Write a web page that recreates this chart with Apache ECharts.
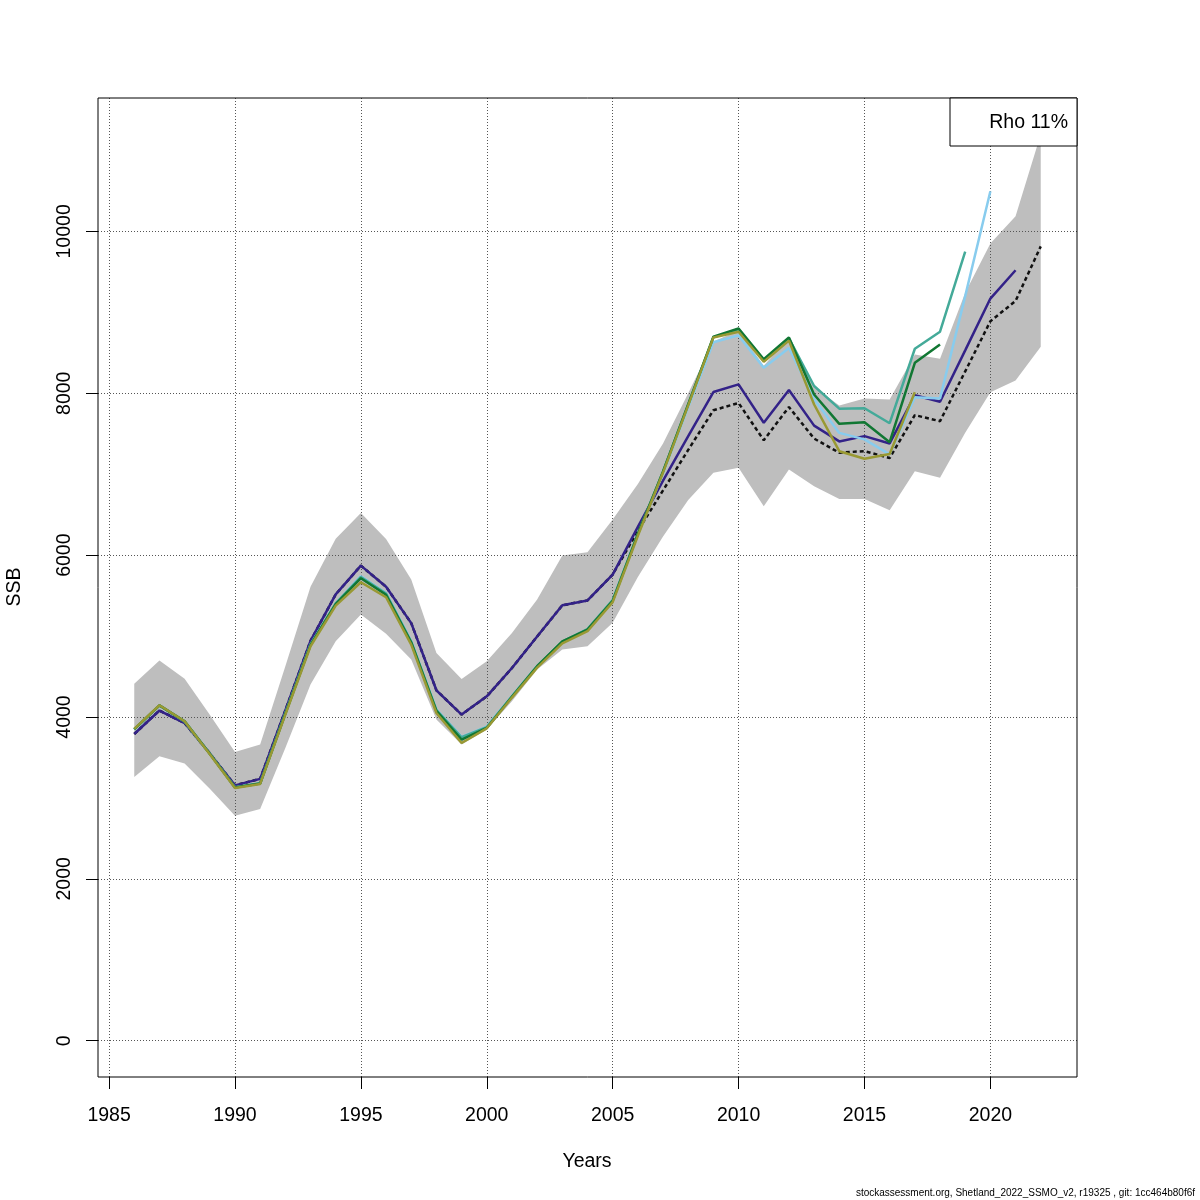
<!DOCTYPE html>
<html>
<head>
<meta charset="utf-8">
<script src="https://cdn.jsdelivr.net/npm/echarts@6.0.0/dist/echarts.min.js"></script>
<style>
  html, body { margin: 0; padding: 0; background: #fff; }
  #container { width: 1200px; height: 1200px; }
</style>
</head>
<body>
<div id="container"></div>

<script type="text/javascript">
    // years of the assessment
    var years = [1986, 1987, 1988, 1989, 1990, 1991, 1992, 1993, 1994, 1995,
                 1996, 1997, 1998, 1999, 2000, 2001, 2002, 2003, 2004, 2005,
                 2006, 2007, 2008, 2009, 2010, 2011, 2012, 2013, 2014, 2015,
                 2016, 2017, 2018, 2019, 2020, 2021, 2022];

    // final run, with its confidence band
    var ssbFinal = [3790, 4080, 3925, 3550, 3155, 3235, 4080, 4940, 5515, 5870,
                    5610, 5160, 4330, 4030, 4255, 4605, 4995, 5380, 5440, 5760,
                    6300, 6800, 7300, 7790, 7880, 7420, 7830, 7440, 7265, 7285,
                    7200, 7730, 7655, 8270, 8890, 9140, 9815];
    var ciLow = [3259, 3514, 3424, 3115, 2781, 2864, 3618, 4400, 4936, 5265,
                 5030, 4709, 3968, 3659, 3844, 4194, 4586, 4833, 4874, 5163,
                 5730, 6230, 6680, 7017, 7079, 6604, 7058, 6851, 6695, 6695,
                 6555, 7037, 6955, 7511, 8013, 8158, 8574];
    var ciHigh = [4412, 4697, 4474, 4029, 3568, 3659, 4627, 5608, 6201, 6522,
                  6200, 5698, 4792, 4470, 4689, 5039, 5451, 5995, 6035, 6440,
                  6880, 7380, 8000, 8640, 8775, 8340, 8690, 8075, 7849, 7935,
                  7923, 8479, 8426, 9242, 9851, 10188, 11200];

    // retrospective peels (each one year shorter)
    var peel2021 = [3790, 4080, 3925, 3550, 3155, 3235, 4080, 4940, 5515, 5870,
                    5610, 5160, 4330, 4030, 4255, 4605, 4995, 5380, 5440, 5760,
                    6350, 6920, 7470, 8015, 8110, 7635, 8040, 7600, 7405, 7470,
                    7380, 7975, 7895, 8530, 9170, 9520];
    var peel2020 = [3845, 4140, 3945, 3545, 3130, 3180, 4045, 4895, 5400, 5740,
                    5530, 4935, 4090, 3755, 3880, 4260, 4625, 4925, 5080, 5440,
                    6255, 7010, 7830, 8630, 8715, 8315, 8560, 7925, 7510, 7430,
                    7245, 7950, 7935, 9200, 10495];
    var peel2019 = [3848, 4142, 3946, 3546, 3132, 3182, 4048, 4898, 5405, 5730,
                    5525, 4930, 4085, 3750, 3875, 4255, 4628, 4930, 5085, 5445,
                    6265, 7030, 7860, 8690, 8790, 8410, 8680, 8090, 7810, 7815,
                    7630, 8550, 8760, 9750];
    var peel2018 = [3850, 4143, 3946, 3545, 3128, 3178, 4040, 4888, 5395, 5715,
                    5510, 4920, 4075, 3720, 3865, 4250, 4628, 4935, 5080, 5435,
                    6260, 7035, 7865, 8700, 8800, 8420, 8690, 7985, 7622, 7642,
                    7395, 8376, 8603];
    var peel2017 = [3853, 4145, 3947, 3540, 3123, 3173, 4030, 4874, 5377, 5665,
                    5480, 4895, 4050, 3679, 3860, 4240, 4610, 4910, 5060, 5420,
                    6240, 7020, 7850, 8690, 8760, 8390, 8650, 7861, 7284, 7190,
                    7250, 8013];

    var xTicks = [1985, 1990, 1995, 2000, 2005, 2010, 2015, 2020];
    var yTicks = [0, 2000, 4000, 6000, 8000, 10000];

    var font = "'Liberation Sans', Arial, sans-serif";

    function toPairs(vals) {
        return vals.map(function (v, i) { return [years[i], v]; });
    }

    function peelLine(vals, color) {
        return {
            type: 'line',
            data: toPairs(vals),
            symbol: 'none',
            z: 5,
            lineStyle: { color: color, width: 2.5 },
            silent: true
        };
    }

    // confidence band as one polygon: upper bound forward, lower bound back
    function renderBand(params, api) {
        var pts = [];
        for (var i = 0; i < years.length; i++) {
            pts.push(api.coord([years[i], ciHigh[i]]));
        }
        for (var j = years.length - 1; j >= 0; j--) {
            pts.push(api.coord([years[j], ciLow[j]]));
        }
        return {
            type: 'polygon',
            shape: { points: pts },
            style: { fill: '#BEBEBE', stroke: 'none' }
        };
    }

    var dom = document.getElementById("container");
    var myChart = echarts.init(dom, null, { renderer: 'canvas' });

    var gridLine = { show: true, lineStyle: { color: '#555', width: 1, type: [1, 2] } };
    var plain = function (v) { return String(v); };

    var option = {
        animation: false,
        backgroundColor: '#fff',
        grid: {
            left: 98, right: 123, top: 98, bottom: 123,
            show: true, borderColor: '#000', borderWidth: 1,
            backgroundColor: 'transparent', z: 6
        },
        xAxis: {
            type: 'value',
            min: 1984.56, max: 2023.44,
            z: 3,
            axisLine: { show: false, onZero: false },
            axisTick: { show: true, inside: false, length: 12, customValues: xTicks,
                        lineStyle: { color: '#000', width: 1 } },
            axisLabel: { customValues: xTicks, margin: 29, fontFamily: font,
                         fontSize: 19.5, color: '#000', formatter: plain },
            splitLine: gridLine
        },
        yAxis: {
            type: 'value',
            min: -448, max: 11648,
            z: 3,
            axisLine: { show: false, onZero: false },
            axisTick: { show: true, inside: false, length: 12, customValues: yTicks,
                        lineStyle: { color: '#000', width: 1 } },
            axisLabel: { customValues: yTicks, rotate: 90, margin: 23, fontFamily: font,
                         fontSize: 19.5, color: '#000', formatter: plain },
            splitLine: gridLine
        },
        series: [
            {
                type: 'custom', data: [[years[0], ciLow[0]]], z: 1, silent: true,
                clip: true, renderItem: renderBand
            },
            {
                type: 'line', data: toPairs(ssbFinal), symbol: 'none', z: 4,
                lineStyle: { color: '#111', width: 2.5, type: [4, 3] }, silent: true
            },
            peelLine(peel2021, '#332288'),
            peelLine(peel2020, '#88CCEE'),
            peelLine(peel2019, '#44AA99'),
            peelLine(peel2018, '#117733'),
            peelLine(peel2017, '#999933')
        ],
        graphic: [
            {
                type: 'rect', z: 100,
                shape: { x: 950, y: 98, width: 127, height: 48 },
                style: { fill: '#fff', stroke: '#000', lineWidth: 1 }
            },
            {
                type: 'text', z: 101, x: 1068, y: 123,
                style: { text: 'Rho 11%', fill: '#000', font: '19.5px ' + font,
                         textAlign: 'right', textVerticalAlign: 'middle' }
            },
            {
                type: 'text', z: 101, x: 587, y: 1162,
                style: { text: 'Years', fill: '#000', font: '19.5px ' + font,
                         textAlign: 'center', textVerticalAlign: 'middle' }
            },
            {
                type: 'text', z: 101, x: 15, y: 587, rotation: Math.PI / 2,
                style: { text: 'SSB', fill: '#000', font: '19.5px ' + font,
                         textAlign: 'center', textVerticalAlign: 'middle' }
            },
            {
                type: 'text', z: 101, x: 1195, y: 1193,
                style: { text: 'stockassessment.org, Shetland_2022_SSMO_v2, r19325 , git: 1cc464b80f6f',
                         fill: '#000', font: '10px ' + font,
                         textAlign: 'right', textVerticalAlign: 'middle' }
            }
        ]
    };

    if (option && typeof option === 'object') {
        myChart.setOption(option);
    }
</script>
</body>
</html>
